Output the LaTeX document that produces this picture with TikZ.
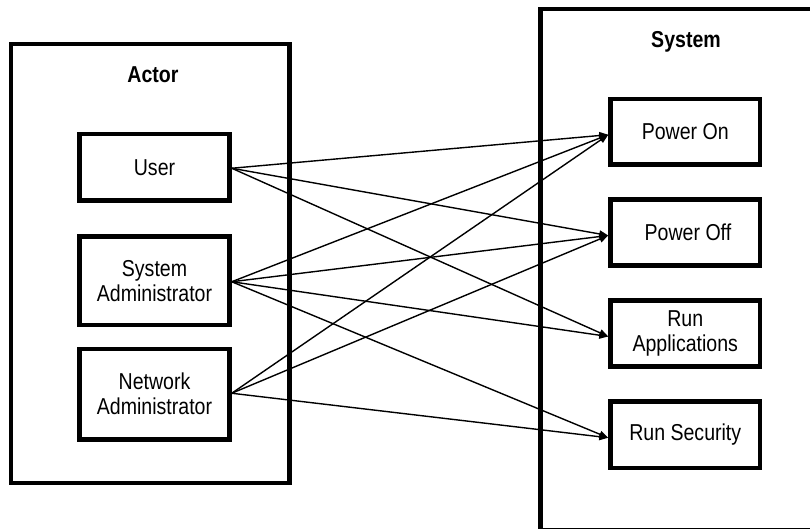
\documentclass[tikz,border=0pt]{standalone}
\usepackage{fontspec}
\setmainfont{Liberation Sans}[FakeStretch=0.85]
\usetikzlibrary{arrows.meta}
\tikzset{
  frame/.style={draw=black, line width=4.5pt},
  box/.style={draw=black, line width=4.5pt, minimum width=150pt, inner sep=0pt, align=center,
    font=\fontsize{23}{25}\selectfont},
  title/.style={font=\fontsize{23}{25}\selectfont\bfseries, inner sep=0pt},
  conn/.style={draw=black, line width=1.4pt, -{Triangle[length=9pt,width=7pt]}}
}
\begin{document}
\begin{tikzpicture}[x=1pt,y=-1pt]
\useasboundingbox (0,0) rectangle (810,529);
\clip (0,0) rectangle (810,529);
% containers
\draw[frame] (11,44) rectangle (289.5,483);
\draw[frame] (540.5,9) rectangle (840,530.5);
\node[title] (actor) at (153,75) {Actor};
\node[title] (system) at (686,41.5) {System};
% actors
\node[box, minimum height=66.5pt] (u) at (154.5,167.25) {User};
\node[box, minimum height=88.5pt] (sa) at (154.5,280.75) {System\\Administrator};
\node[box, minimum height=90.5pt] (na) at (154.5,394.25) {Network\\Administrator};
% use cases
\node[box, minimum width=149.5pt, minimum height=65.5pt] (pon) at (685.25,131.75) {Power On};
\node[box, minimum width=149.5pt, minimum height=66pt] (poff) at (685.25,232.5) {\ Power Off};
\node[box, minimum width=149.5pt, minimum height=66pt] (ra) at (685.25,333.5) {Run\\Applications};
\node[box, minimum width=149.5pt, minimum height=66.5pt] (rs) at (685.25,434.75) {Run Security};
% connectors
\draw[conn] ([yshift=-1pt]u.east) -- ([yshift=-3pt]pon.west);
\draw[conn] ([yshift=-1pt]u.east) -- ([yshift=-3pt]poff.west);
\draw[conn] ([yshift=-1pt]u.east) -- ([yshift=-3pt]ra.west);
\draw[conn] ([yshift=-1pt]sa.east) -- ([yshift=-3pt]pon.west);
\draw[conn] ([yshift=-1pt]sa.east) -- ([yshift=-3pt]poff.west);
\draw[conn] ([yshift=-1pt]sa.east) -- ([yshift=-3pt]ra.west);
\draw[conn] ([yshift=-1pt]sa.east) -- ([yshift=-3pt]rs.west);
\draw[conn] ([yshift=1pt]na.east) -- ([yshift=-3pt]pon.west);
\draw[conn] ([yshift=1pt]na.east) -- ([yshift=-3pt]poff.west);
\draw[conn] ([yshift=1pt]na.east) -- ([yshift=-3pt]rs.west);
\end{tikzpicture}
\end{document}
